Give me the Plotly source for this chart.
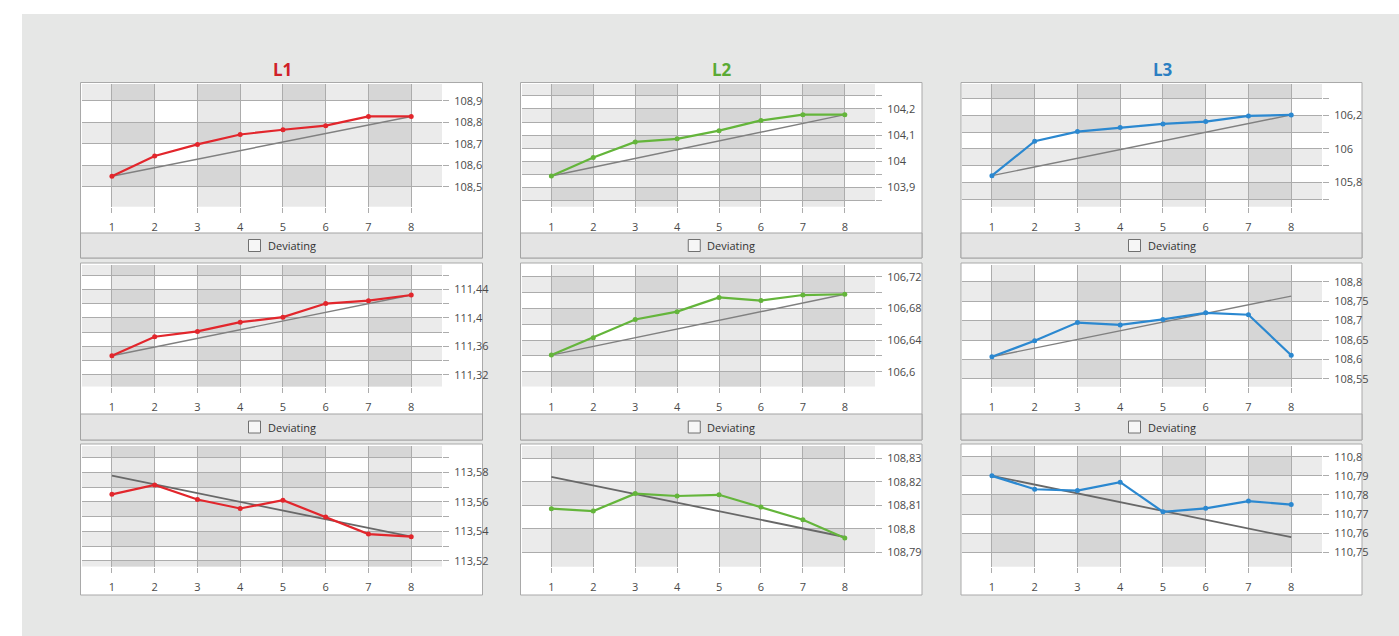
import plotly.graph_objects as go

W, H = 1399, 636

# Sample index along the x axis
samples = [1, 2, 3, 4, 5, 6, 7, 8]

phases = ["L1", "L2", "L3"]
phase_colors = ["#e2262c", "#64b53b", "#2b88d0"]
title_colors = ["#d02027", "#5aaa34", "#2b7fc2"]

# Readings per phase: top, middle and bottom panels
l1_top = [108.549, 108.643, 108.697, 108.743, 108.765, 108.784, 108.827, 108.827]
l2_top = [103.944, 104.015, 104.074, 104.086, 104.117, 104.156, 104.178, 104.178]
l3_top = [105.840, 106.046, 106.104, 106.128, 106.150, 106.164, 106.198, 106.204]

l1_mid = [111.347, 111.3735, 111.381, 111.394, 111.401, 111.420, 111.424, 111.432]
l2_mid = [106.621, 106.643, 106.666, 106.676, 106.694, 106.690, 106.697, 106.698]
l3_mid = [108.607, 108.648, 108.695, 108.689, 108.703, 108.720, 108.715, 108.611]

l1_bot = [113.5651, 113.5714, 113.5616, 113.5555, 113.5611, 113.5498, 113.5382, 113.5364]
l2_bot = [108.8086, 108.8076, 108.8150, 108.8140, 108.8145, 108.8093, 108.8039, 108.7962]
l3_bot = [110.7900, 110.7830, 110.7823, 110.7867, 110.7712, 110.7730, 110.7768, 110.7750]

# Trend line values at the first and last sample
l1_top_trend = [108.549, 108.827]
l2_top_trend = [103.944, 104.178]
l3_top_trend = [105.840, 106.204]
l1_mid_trend = [111.347, 111.432]
l2_mid_trend = [106.621, 106.698]
l3_mid_trend = [108.607, 108.763]
l1_bot_trend = [113.5777, 113.5364]
l2_bot_trend = [108.8221, 108.7966]
l3_bot_trend = [110.7900, 110.7579]

series = [
    [l1_top, l2_top, l3_top],
    [l1_mid, l2_mid, l3_mid],
    [l1_bot, l2_bot, l3_bot],
]
trends = [
    [l1_top_trend, l2_top_trend, l3_top_trend],
    [l1_mid_trend, l2_mid_trend, l3_mid_trend],
    [l1_bot_trend, l2_bot_trend, l3_bot_trend],
]

# Axis setup per panel: (range low, range high, label step, grid step)
y_axes = [
    [(108.407, 108.978, 0.1, 0.1), (103.827, 104.295, 0.1, 0.05), (105.654, 106.389, 0.2, 0.1)],
    [(111.3036, 111.474, 0.04, 0.02), (106.581, 106.735, 0.04, 0.02), (108.530, 108.843, 0.05, 0.05)],
    [(113.5161, 113.5978, 0.02, 0.01), (108.784, 108.8352, 0.01, 0.01), (110.7425, 110.8056, 0.01, 0.01)],
]

# Layout in pixels
col_plot_x = [(82, 442), (522, 875), (962, 1322)]
col_box_x = [(80.5, 482.5), (520.5, 922), (961, 1362)]
row_plot_y = [(84, 206.7), (265, 386.7), (446, 566.7)]
row_box_y = [(82.5, 258), (263, 440), (444, 595)]
row_bar_y = [(233, 258), (414, 440), None]
X_RANGE = [0.3, 8.72]

# Trend line style per row
trend_styles = [("#808080", 1.4), ("#808080", 1.4), ("#686868", 1.8)]

GRID = "#acacac"
BAND = "rgba(0,0,0,0.08)"
COLUMN = "rgba(0,0,0,0.085)"
FONT = "Open Sans, Noto Sans, sans-serif"


def px(x):
    return x / W


def py(y):
    return 1 - y / H


fig = go.Figure()
shapes = []
annotations = []
layout = {}

# Page background
shapes.append(dict(type="rect", xref="paper", yref="paper", x0=px(22), x1=1, y0=0, y1=py(14),
                   fillcolor="#e6e7e6", line=dict(width=0), layer="below"))

for r in range(3):
    for c in range(3):
        idx = r * 3 + c + 1
        sfx = "" if idx == 1 else str(idx)
        xr, yr = "x" + sfx, "y" + sfx

        bx0, bx1 = col_box_x[c]
        by0, by1 = row_box_y[r]
        shapes.append(dict(type="rect", xref="paper", yref="paper",
                           x0=px(bx0), x1=px(bx1), y0=py(by1), y1=py(by0),
                           fillcolor="white", line=dict(color="#a9a9a9", width=1), layer="below"))
        if row_bar_y[r] is not None:
            t0, t1 = row_bar_y[r]
            shapes.append(dict(type="rect", xref="paper", yref="paper",
                               x0=px(bx0), x1=px(bx1), y0=py(t1), y1=py(t0),
                               fillcolor="#e4e4e4", line=dict(color="#a3a3a3", width=1), layer="below"))
            cx = (bx0 + bx1) / 2
            cy = (t0 + t1) / 2
            shapes.append(dict(type="rect", xref="paper", yref="paper",
                               x0=px(cx - 33), x1=px(cx - 21), y0=py(cy + 6), y1=py(cy - 6),
                               fillcolor="#f6f6f6", line=dict(color="#707070", width=1), layer="below"))
            annotations.append(dict(text="Deviating", xref="paper", yref="paper",
                                    x=px(cx - 16), y=py(cy), xanchor="left", yanchor="middle",
                                    showarrow=False, font=dict(family=FONT, size=11, color="#333333")))

        lo, hi, step, grid = y_axes[r][c]

        # Alternating horizontal bands
        k = int(lo // grid) - 1
        while k * grid < hi:
            if k % 2 != 0:
                y0 = max(lo, k * grid)
                y1 = min(hi, (k + 1) * grid)
                if y1 > y0:
                    shapes.append(dict(type="rect", xref=xr + " domain", yref=yr,
                                       x0=0, x1=1, y0=y0, y1=y1,
                                       fillcolor=BAND, line=dict(width=0), layer="below"))
            k += 1
        # Alternating vertical columns
        for s in samples[0:-1:2]:
            shapes.append(dict(type="rect", xref=xr, yref=yr + " domain",
                               x0=s, x1=s + 1, y0=0, y1=1,
                               fillcolor=COLUMN, line=dict(width=0), layer="below"))

        x0p, x1p = col_plot_x[c]
        y0p, y1p = row_plot_y[r]
        layout["xaxis" + sfx] = dict(
            domain=[px(x0p), px(x1p)], range=X_RANGE, anchor=yr,
            tickmode="array", tickvals=samples,
            showgrid=True, gridcolor=GRID, gridwidth=1,
            ticks="outside", ticklen=5, tickcolor=GRID, ticklabelstandoff=5,
            showline=False, zeroline=False, fixedrange=True,
            tickfont=dict(family=FONT, size=11, color="#4a4a4a"),
        )
        layout["yaxis" + sfx] = dict(
            domain=[py(y1p), py(y0p)], range=[lo, hi], anchor=xr, side="right",
            tick0=0, dtick=step,
            showgrid=True, gridcolor=GRID, gridwidth=1,
            ticks="outside", ticklen=6, tickcolor=GRID, ticklabelstandoff=3,
            minor=dict(dtick=grid, showgrid=True, gridcolor=GRID, ticks="outside",
                       ticklen=6, tickcolor=GRID),
            showline=False, zeroline=False, fixedrange=True,
            tickfont=dict(family=FONT, size=11, color="#4a4a4a"),
        )

        tr = trends[r][c]
        tcol, twid = trend_styles[r]
        fig.add_trace(go.Scatter(x=[samples[0], samples[-1]], y=tr, xaxis=xr, yaxis=yr,
                                 mode="lines", line=dict(color=tcol, width=twid),
                                 hoverinfo="skip", showlegend=False))
        fig.add_trace(go.Scatter(x=samples, y=series[r][c], xaxis=xr, yaxis=yr,
                                 mode="lines+markers",
                                 line=dict(color=phase_colors[c], width=2.2),
                                 marker=dict(color=phase_colors[c], size=5),
                                 showlegend=False))

# Phase titles
for c in range(3):
    bx0, bx1 = col_box_x[c]
    annotations.append(dict(text="<b>%s</b>" % phases[c], xref="paper", yref="paper",
                            x=px((bx0 + bx1) / 2 + 1), y=py(70), xanchor="center", yanchor="middle",
                            showarrow=False, font=dict(family=FONT, size=17, color=title_colors[c])))

fig.update_layout(
    width=W, height=H, margin=dict(l=0, r=0, t=0, b=0),
    paper_bgcolor="white", plot_bgcolor="rgba(0,0,0,0)",
    separators=", ", showlegend=False, hovermode=False,
    shapes=shapes, annotations=annotations,
    **layout,
)

fig.write_html("out.html", config={"displayModeBar": False})
